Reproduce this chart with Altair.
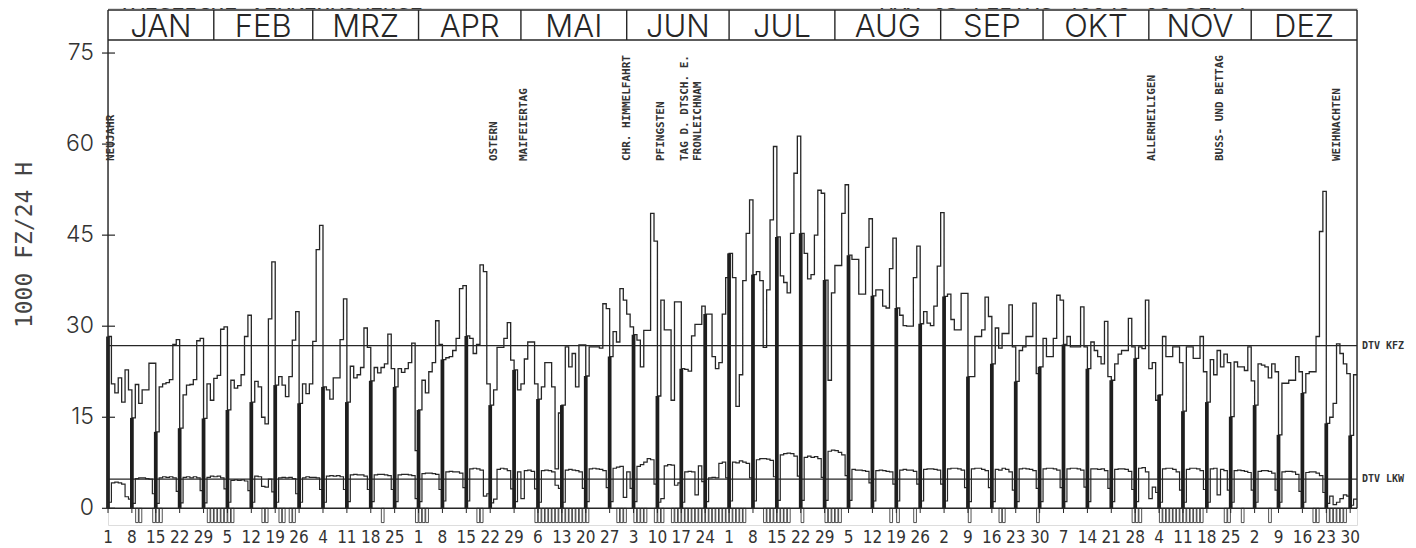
import altair as alt
import pandas as pd

# ---------------- data (1984, daily values, 1000 vehicles / 24 h) ----------------
kfz_jan = [28.3, 20.5, 19.0, 21.5, 17.5, 22.8, 19.5,
           14.9, 20.4, 17.3, 19.5, 19.5, 23.9, 23.9,
           12.6, 20.0, 20.5, 20.7, 21.2, 27.0, 27.8,
           13.2, 18.7, 20.3, 20.4, 21.2, 27.6, 28.0,
           14.8, 20.5, 17.8]
kfz_feb = [21.4, 21.9, 29.5, 29.9,
           16.2, 21.1, 19.8, 20.2, 22.0, 28.3, 31.8,
           17.5, 20.9, 20.0, 15.0, 13.9, 31.2, 40.6,
           20.3, 21.7, 20.3, 18.4, 21.7, 27.7, 32.4,
           17.3, 20.5, 18.9, 20.5]
kfz_mar = [27.5, 42.6, 46.6,
           20.0, 19.5, 18.0, 21.5, 21.5, 27.8, 34.5,
           17.5, 23.4, 21.5, 22.0, 23.2, 29.7, 26.5,
           21.0, 23.2, 22.3, 23.2, 23.8, 28.7, 23.0,
           20.0, 23.0, 22.4, 23.0, 24.0, 27.2, 9.5]
kfz_apr = [16.2, 21.1, 19.0, 22.5, 24.0, 30.9, 27.0,
           24.5, 24.8, 25.0, 26.0, 28.0, 36.2, 36.7,
           28.4, 28.0, 25.5, 27.0, 40.1, 39.0, 20.5,
           17.0, 19.5, 26.5, 26.5, 28.0, 30.6, 24.4,
           22.8, 19.5]
kfz_may = [20.5, 24.6, 27.4, 27.4, 20.5,
           18.0, 20.0, 24.0, 24.0, 20.0, 6.5, 15.7,
           17.0, 26.6, 23.3, 25.5, 20.0, 26.9, 26.9,
           21.8, 26.6, 26.6, 26.6, 26.4, 33.7, 32.9,
           25.0, 29.1, 27.4, 36.2, 34.3]
kfz_jun = [32.0, 29.9,
           28.6, 27.7, 23.3, 29.3, 29.3, 48.6, 44.0,
           18.5, 34.3, 29.4, 29.4, 17.8, 34.0, 34.0,
           23.0, 22.9, 22.6, 28.4, 30.3, 30.3, 33.3,
           32.0, 32.0, 25.0, 23.0, 24.0, 32.0, 38.0]
kfz_jul = [42.0, 38.0, 16.8, 22.0, 37.5, 45.3, 50.8,
           38.5, 39.0, 37.5, 26.5, 36.0, 47.5, 59.6,
           44.7, 38.3, 37.2, 35.5, 45.3, 55.2, 61.3,
           45.3, 42.0, 37.8, 38.5, 45.0, 52.4, 51.9,
           37.6, 21.1, 35.5]
kfz_aug = [40.0, 40.0, 48.6, 53.3,
           41.7, 41.0, 41.0, 35.3, 35.3, 43.0, 47.7,
           35.0, 36.0, 36.0, 33.3, 33.0, 39.5, 44.5,
           33.0, 31.8, 30.1, 30.0, 30.0, 38.0, 43.2,
           30.4, 32.4, 30.5, 30.1, 33.3, 39.9]
kfz_sep = [48.7,
           34.9, 35.3, 31.1, 29.4, 29.4, 35.4, 35.4,
           21.7, 21.7, 28.3, 28.3, 29.4, 34.8, 31.6,
           23.8, 29.7, 26.4, 28.8, 28.8, 33.5, 26.6,
           20.9, 26.0, 26.6, 28.3, 28.3, 33.8, 22.2,
           23.3]
kfz_oct = [28.0, 25.0, 25.0, 28.0, 35.1, 34.3,
           27.0, 28.3, 26.6, 26.6, 26.6, 33.2, 26.6,
           23.0, 27.4, 26.0, 25.0, 23.8, 30.8, 21.7,
           21.1, 23.8, 25.4, 26.0, 26.0, 31.3, 26.6,
           24.7, 26.6, 26.3, 34.3]
kfz_nov = [23.0, 24.0, 17.8,
           18.7, 28.3, 25.0, 25.0, 26.6, 26.6, 24.0,
           16.0, 26.6, 26.6, 24.7, 24.7, 28.3, 22.5,
           17.5, 24.5, 22.0, 26.0, 23.3, 25.4, 24.0,
           15.1, 24.1, 23.3, 23.3, 22.7, 26.6]
kfz_dec = [21.0,
           17.0, 23.8, 23.6, 23.3, 21.5, 23.8, 22.5,
           12.1, 20.6, 20.6, 21.1, 21.1, 25.0, 22.5,
           19.0, 22.2, 22.5, 22.5, 28.3, 45.6, 52.2,
           14.0, 15.0, 17.3, 27.1, 25.5, 23.8, 22.2,
           12.0, 22.0]

lkw_jan = [1.0, 4.2, 4.3, 4.2, 4.0, 1.9, 1.5,
           0.8, 4.9, 5.0, 5.0, 4.9, 4.8, 2.4,
           0.8, 5.0, 5.2, 5.1, 5.2, 5.0, 2.8,
           0.9, 5.1, 5.2, 5.0, 5.2, 5.0, 2.9,
           0.9, 5.1, 5.3]
lkw_feb = [5.2, 5.3, 5.0, 3.2,
           1.0, 4.6, 4.7, 4.6, 4.7, 4.5, 2.9,
           1.0, 5.3, 5.2, 3.6, 3.5, 4.8, 2.7,
           1.0, 5.0, 5.1, 5.0, 5.1, 4.9, 2.4,
           1.0, 5.0, 5.2, 5.1]
lkw_mar = [5.1, 5.0, 3.1,
           1.0, 5.3, 5.4, 5.3, 5.4, 5.2, 3.1,
           1.1, 5.5, 5.6, 5.5, 5.5, 5.3, 3.1,
           1.1, 5.5, 5.6, 5.6, 5.5, 5.4, 3.1,
           1.1, 5.5, 5.6, 5.6, 5.5, 5.4, 1.6]
lkw_apr = [1.1, 5.7, 5.8, 5.8, 5.7, 5.6, 3.1,
           1.2, 6.0, 6.1, 6.0, 6.0, 5.8, 3.4,
           1.2, 6.5, 6.6, 6.5, 6.3, 2.0, 2.4,
           0.9, 1.5, 6.4, 6.6, 6.5, 6.2, 3.2,
           1.1, 6.0]
lkw_may = [1.6, 6.2, 6.3, 6.1, 3.2,
           1.0, 6.2, 6.3, 6.2, 6.0, 3.8, 3.3,
           1.0, 6.3, 6.4, 6.3, 6.2, 6.0, 3.3,
           1.1, 6.5, 6.6, 6.5, 6.4, 6.2, 3.4,
           1.1, 6.6, 6.8, 6.9, 1.8]
lkw_jun = [6.0, 3.3,
           1.1, 6.9, 7.2, 7.6, 8.2, 8.0, 4.0,
           1.0, 1.6, 7.0, 7.2, 7.1, 3.8, 4.2,
           1.0, 6.0, 6.1, 6.0, 2.2, 7.0, 4.4,
           1.1, 5.0, 5.1, 5.0, 7.4, 7.6, 5.0]
lkw_jul = [1.2, 7.6, 7.5, 7.8, 7.6, 7.4, 5.0,
           1.2, 8.0, 8.2, 8.2, 8.1, 7.9, 5.2,
           1.3, 8.8, 9.0, 9.1, 9.0, 8.6, 5.3,
           1.3, 8.4, 8.6, 8.4, 8.5, 8.2, 5.1,
           1.3, 9.4, 9.6]
lkw_aug = [9.5, 9.2, 8.8, 5.4,
           1.3, 6.4, 6.3, 6.3, 6.2, 6.1, 4.2,
           1.2, 6.2, 6.3, 6.2, 6.1, 6.0, 4.0,
           1.2, 6.3, 6.4, 6.3, 6.3, 6.1, 4.0,
           1.2, 6.4, 6.5, 6.5, 6.4, 6.3]
lkw_sep = [4.0,
           1.2, 6.5, 6.6, 6.6, 6.5, 6.3, 3.4,
           1.1, 6.5, 6.6, 6.6, 6.4, 6.2, 3.4,
           1.1, 6.4, 6.3, 6.6, 6.4, 6.0, 3.0,
           1.1, 6.5, 6.6, 6.5, 6.4, 6.2, 3.3,
           1.1]
lkw_oct = [6.5, 6.6, 6.6, 6.5, 6.3, 3.4,
           1.1, 6.5, 6.6, 6.6, 6.5, 6.3, 3.5,
           1.1, 6.5, 6.5, 6.4, 6.5, 6.2, 3.3,
           1.1, 6.4, 6.5, 6.5, 6.4, 6.1, 3.1,
           1.1, 6.6, 6.7, 6.0]
lkw_nov = [1.6, 3.5, 2.6,
           1.0, 6.5, 6.6, 6.6, 6.4, 6.0, 3.0,
           1.0, 6.4, 6.6, 6.6, 6.5, 6.2, 3.1,
           1.0, 6.5, 6.6, 2.2, 6.4, 6.2, 3.0,
           1.0, 6.2, 6.3, 6.2, 6.1, 5.9]
lkw_dec = [3.0,
           1.0, 6.1, 6.2, 6.2, 6.1, 5.8, 3.0,
           1.0, 6.0, 6.1, 6.1, 6.0, 5.6, 2.8,
           1.0, 5.9, 6.0, 6.0, 5.8, 5.4, 2.6,
           0.8, 2.0, 0.6, 1.0, 1.6, 2.2, 2.0,
           0.5, 1.5]

# days (0 = 1 Jan) marked with a small box under the axis
marker_days = [8, 9, 13, 14, 15, 29, 30, 31, 32, 33, 34, 35, 36, 45, 46,
               50, 51, 53, 54, 80, 90, 91, 92, 93, 108, 109,
               125, 126, 127, 128, 129, 130, 131, 132, 133, 134, 135, 136, 137, 138, 139, 140,
               149, 150, 151, 154, 155, 156, 157, 160, 161, 162,
               165, 166, 167, 168, 169, 170, 171, 172, 173, 174, 175, 176, 177, 178, 179, 180,
               181, 182, 183, 184, 185, 186,
               192, 193, 194, 195, 196, 197, 198, 199, 203, 210, 211, 212, 213, 214,
               229, 231, 236, 252, 261, 262, 272, 300, 301, 302,
               308, 309, 310, 311, 312, 313, 314, 315, 316, 317, 318, 319, 320,
               327, 328, 332, 340, 353, 354, 357, 358, 359, 360, 361, 362]

holiday_names = ["NEUJAHR", "OSTERN", "MAIFEIERTAG", "CHR. HIMMELFAHRT", "PFINGSTEN",
                 "TAG D. DTSCH. E.", "FRONLEICHNAM", "ALLERHEILIGEN",
                 "BUSS- UND BETTAG", "WEIHNACHTEN"]
holiday_days = [0, 112, 121, 151, 161, 168, 172, 305, 325, 359]

month_names = ["JAN", "FEB", "MRZ", "APR", "MAI", "JUN", "JUL", "AUG", "SEP", "OKT", "NOV", "DEZ"]
month_starts = [0, 31, 60, 91, 121, 152, 182, 213, 244, 274, 305, 335, 366]

sunday_labels = [1, 8, 15, 22, 29, 5, 12, 19, 26, 4, 11, 18, 25,
                 1, 8, 15, 22, 29, 6, 13, 20, 27, 3, 10, 17, 24,
                 1, 8, 15, 22, 29, 5, 12, 19, 26, 2, 9, 16, 23, 30,
                 7, 14, 21, 28, 4, 11, 18, 25, 2, 9, 16, 23, 30]

dtv_values = [26.8, 4.8]
dtv_labels = ["DTV KFZ", "DTV LKW"]
y_ticks = [0, 15, 30, 45, 60, 75]

# ---------------- layout / style ----------------
W, H = 1249, 517
XMAX = 366
YMIN, YMAX = -2.75, 82.42
HEAD_TOP, HEAD_BOT = 82.09, 77.15
INK = "#262626"
TXT = "#333333"
MONO = "DejaVu Sans Mono, Liberation Mono, monospace"
THIN = "Inter, Lato, Noto Sans, DejaVu Sans, sans-serif"
NARROW = "Liberation Sans Narrow, DejaVu Sans Condensed, Arial Narrow, sans-serif"

kfz = (kfz_jan + kfz_feb + kfz_mar + kfz_apr + kfz_may + kfz_jun +
       kfz_jul + kfz_aug + kfz_sep + kfz_oct + kfz_nov + kfz_dec)
lkw = (lkw_jan + lkw_feb + lkw_mar + lkw_apr + lkw_may + lkw_jun +
       lkw_jul + lkw_aug + lkw_sep + lkw_oct + lkw_nov + lkw_dec)
assert len(kfz) == 366, len(kfz)
assert len(lkw) == 366, len(lkw)

xs = alt.Scale(domain=[0, XMAX], nice=False, zero=False)
ys = alt.Scale(domain=[YMIN, YMAX], nice=False, zero=False)


def X(f):
    return alt.X(f, type="quantitative", scale=xs, axis=None)


def Y(f):
    return alt.Y(f, type="quantitative", scale=ys, axis=None)


days = list(range(len(kfz)))
series = pd.DataFrame({"d": days + [XMAX], "kfz": kfz + [kfz[-1]], "lkw": lkw + [lkw[-1]]})

sun_days = list(range(0, len(kfz), 7))
sun_df = pd.DataFrame({"d": sun_days, "v": [kfz[i] for i in sun_days],
                       "lab": [str(s) for s in sunday_labels]})

frame_rows = [
    dict(x1=0, x2=0, y1=0, y2=HEAD_TOP),
    dict(x1=XMAX, x2=XMAX, y1=0, y2=HEAD_TOP),
    dict(x1=0, x2=XMAX, y1=0, y2=0),
    dict(x1=0, x2=XMAX, y1=HEAD_TOP, y2=HEAD_TOP),
    dict(x1=0, x2=XMAX, y1=HEAD_BOT, y2=HEAD_BOT),
] + [dict(x1=s, x2=s, y1=HEAD_BOT, y2=HEAD_TOP) for s in month_starts[1:-1]]
frame_df = pd.DataFrame(frame_rows)

month_df = pd.DataFrame({"name": month_names, "s": month_starts[:-1], "e": month_starts[1:]})
hol_df = pd.DataFrame({"name": holiday_names, "d": holiday_days})
mark_df = pd.DataFrame({"d": marker_days})
dtv_df = pd.DataFrame({"v": dtv_values, "lab": dtv_labels})
ytick_df = pd.DataFrame({"v": y_ticks, "lab": [str(t) for t in y_ticks]})
one = pd.DataFrame({"k": [0]})

layers = []

# DTV reference lines
layers.append(alt.Chart(dtv_df).mark_rule(color=INK, strokeWidth=1.2).encode(
    x=alt.value(0), x2=alt.value(W), y=Y("v")))

# KFZ and LKW daily step lines
layers.append(alt.Chart(series).mark_line(interpolate="step-after", color=INK, strokeWidth=1.3).encode(
    x=X("d"), y=Y("kfz")))
layers.append(alt.Chart(series).mark_line(interpolate="step-after", color=INK, strokeWidth=1.2).encode(
    x=X("d"), y=Y("lkw")))

# Sunday bars
layers.append(alt.Chart(sun_df).transform_calculate(
    a="datum.d - 0.55", b="datum.d + 0.55", z="0").mark_rect(color="#1e1e1e").encode(
    x=X("a"), x2="b", y=Y("z"), y2="v"))

# boxes under the axis
layers.append(alt.Chart(mark_df).transform_calculate(
    a="datum.d + 0.1", b="datum.d + 0.9", t="0", u="-2.35").mark_rect(
    fill="white", stroke=INK, strokeWidth=0.8).encode(
    x=X("a"), x2="b", y=Y("u"), y2="t"))

# frame, header box, month dividers
layers.append(alt.Chart(frame_df).mark_rule(color=INK, strokeWidth=1.4).encode(
    x=X("x1"), x2="x2", y=Y("y1"), y2="y2"))

# y ticks and labels
layers.append(alt.Chart(ytick_df).mark_rule(color=INK, strokeWidth=1.2).encode(
    y=Y("v"), x=alt.value(-6), x2=alt.value(7)))
layers.append(alt.Chart(ytick_df).mark_text(
    align="right", baseline="middle", fontSize=23, font=THIN, fontWeight=300, color=TXT).encode(
    x=alt.value(-14), y=Y("v"), text="lab:N"))

# y title
layers.append(alt.Chart(one).mark_text(
    angle=270, align="center", baseline="middle", fontSize=23, font=MONO, color="#444444",
    text="1000 FZ/24 H").encode(x=alt.value(-83), y=alt.value(237)))

# x ticks and labels (Sundays)
layers.append(alt.Chart(sun_df).mark_rule(color=INK, strokeWidth=1).encode(
    x=X("d"), y=alt.value(500.5), y2=alt.value(505)))
layers.append(alt.Chart(sun_df).mark_text(
    align="center", baseline="middle", fontSize=17, font=NARROW, color=TXT).encode(
    x=X("d"), y=alt.value(530), text="lab:N"))

# month header labels
layers.append(alt.Chart(month_df).transform_calculate(m="(datum.s + datum.e) / 2").mark_text(
    align="center", baseline="alphabetic", fontSize=31, font=THIN, fontWeight=300, color=INK).encode(
    x=X("m"), y=alt.value(29), text="name:N"))

# holiday labels
layers.append(alt.Chart(hol_df).transform_calculate(p="datum.d + 1").mark_text(
    angle=270, align="left", baseline="middle", fontSize=11, font=MONO, fontWeight="bold",
    color=TXT).encode(x=X("p"), y=alt.value(153), text="name:N"))

# DTV labels
layers.append(alt.Chart(dtv_df).mark_text(
    align="left", baseline="middle", fontSize=10, font=MONO, fontWeight="bold", color=TXT).encode(
    x=alt.value(W + 5), y=Y("v"), text="lab:N"))

# top title (cut off at the page edge in the original)
layers.append(alt.Chart(one).mark_text(
    align="left", baseline="alphabetic", fontSize=22, font=MONO, color=TXT,
    text="TAEGLICHE VERKEHRSMENGE").encode(x=alt.value(10), y=alt.value(1)))
layers.append(alt.Chart(one).mark_text(
    align="left", baseline="alphabetic", fontSize=22, font=MONO, color=TXT,
    text="MAX 05-FEITAG     40049 08 SEP 7").encode(x=alt.value(772), y=alt.value(1)))

chart = alt.layer(*layers).properties(
    width=W, height=H,
    padding={"left": 100, "top": 0, "right": 51, "bottom": 23},
    autosize=alt.AutoSizeParams(type="none"),
).configure_view(stroke=None).configure(background="white")

chart.save("out.html", embed_options={"renderer": "svg", "actions": False})
